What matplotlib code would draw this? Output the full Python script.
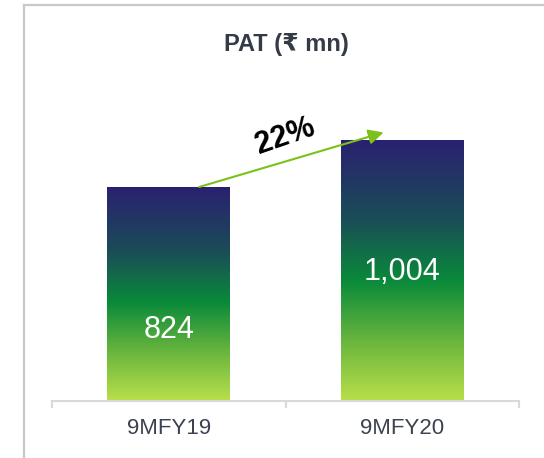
import numpy as np
import matplotlib
matplotlib.use('Agg')
from matplotlib import pyplot as plt
from matplotlib.colors import LinearSegmentedColormap
from matplotlib.lines import Line2D

plt.rcParams['font.family'] = ['Liberation Sans', 'DejaVu Sans']

categories = ['9MFY19', '9MFY20']
pat = [824, 1004]
value_labels = ['824', '1,004']
label_frac = [0.33, 0.495]   # where the white number sits inside each bar
growth_text = '22%'

# gradient: bottom -> top
grad = LinearSegmentedColormap.from_list('pat', [
    (0.00, '#b9df4a'),
    (0.22, '#6db73e'),
    (0.46, '#0a8a3a'),
    (0.70, '#1a4d57'),
    (1.00, '#2a2170'),
])

fig = plt.figure(figsize=(5.44, 4.58), dpi=100)
W, H = 544, 458
ax = fig.add_axes([52 / W, (H - 401) / H, (519 - 52) / W, (401 - 30) / H])

px_per_unit = (401 - 187) / 824.0
ax.set_xlim(-0.5, 1.5)
ax.set_ylim(0, (401 - 30) / px_per_unit)

width = 123 / 233.5
x = np.arange(len(categories))
g = np.linspace(0, 1, 256).reshape(-1, 1)
for i, v in enumerate(pat):
    ax.imshow(g, extent=[x[i] - width / 2, x[i] + width / 2, 0, v],
              origin='lower', aspect='auto', cmap=grad, zorder=2)
    ax.text(x[i], v * label_frac[i], value_labels[i], color='white',
            fontsize=22, ha='center', va='center', zorder=3)

# growth arrow
ax.annotate('', xy=(x[1] - 0.08, pat[1] + 30), xytext=(x[0] + 0.13, pat[0]),
            arrowprops=dict(arrowstyle='-|>,head_length=0.9,head_width=0.45',
                            color='#7cc01c', lw=1.5, shrinkA=0, shrinkB=0),
            zorder=4)
ax.text(0.5, pat[0] + 196, growth_text, fontsize=22, fontweight='bold',
        rotation=19, ha='center', va='center', color='black')

# axes styling
for s in ['top', 'right', 'left']:
    ax.spines[s].set_visible(False)
ax.spines['bottom'].set_color('#d9d9d9')
ax.spines['bottom'].set_linewidth(1.5)
ax.set_yticks([])
ax.set_xticks([-0.5, 0.5, 1.5], minor=False)
ax.set_xticklabels([])
ax.tick_params(axis='x', length=5, width=1.5, color='#d9d9d9')
for i, c in enumerate(categories):
    ax.text(x[i], -0.075, c, transform=ax.get_xaxis_transform(),
            fontsize=16, color='#3b4350', ha='center', va='center')

fig.text(286 / W, 1 - 44 / H, 'PAT (₹ mn)', fontsize=17, fontweight='bold',
         color='#333b47', ha='center', va='center')

# outer frame lines (left + top)
fig.add_artist(Line2D([23.5 / W, 23.5 / W], [0, 1 - 4.5 / H],
                      color='#c8c8c8', lw=1.6, transform=fig.transFigure))
fig.add_artist(Line2D([23.5 / W, 1], [1 - 4.5 / H, 1 - 4.5 / H],
                      color='#c8c8c8', lw=1.6, transform=fig.transFigure))

fig.savefig('out.png', dpi=100)
